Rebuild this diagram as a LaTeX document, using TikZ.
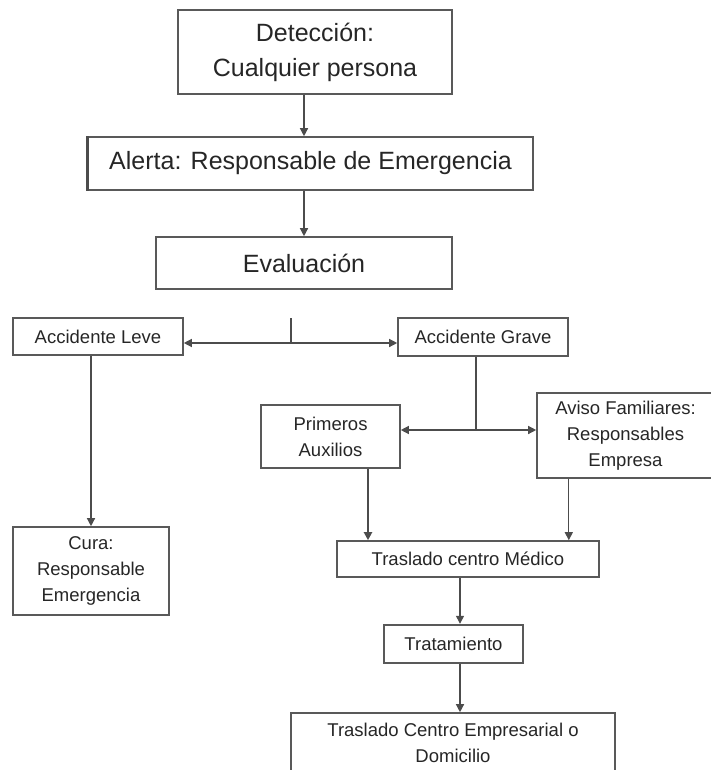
\documentclass[tikz,border=0pt]{standalone}
\usepackage{fontspec}
\setmainfont{Liberation Sans}
\usetikzlibrary{arrows.meta}

\begin{document}
\begin{tikzpicture}[x=1pt,y=-1pt,
  box/.style={draw=black!65,line width=1.6pt,text=black!85,align=center,inner sep=0pt,
    font=\fontsize{18.5}{26}\selectfont},
  bigbox/.style={box,font=\fontsize{25}{35}\selectfont},
  line/.style={draw=black!70,line width=1.3pt},
  arr/.style={line,-{Triangle[length=8pt,width=8pt]}},
  twoarr/.style={line,{Triangle[length=8pt,width=8pt]}-{Triangle[length=8pt,width=8pt]}}]
\useasboundingbox (0,0) rectangle (711,770);
\clip (0,0) rectangle (711,770);

% top chain
\node[bigbox,minimum width=274pt,minimum height=84pt] (detec) at (315,52) {Detección:\\Cualquier persona};
\node[bigbox,minimum width=445pt,minimum height=53pt] (alerta) at (310.5,163.5) {Alerta: Responsable de Emergencia};
\node[bigbox,minimum width=296pt,minimum height=52pt] (eval) at (304,263) {Evaluación};

\draw[arr] (eval.north |- detec.south) -- (eval.north |- alerta.north);
\draw[arr] (alerta.south -| eval.north) -- (eval.north);
\draw[line width=2.6pt,black!70] (alerta.north west) -- (alerta.south west);

% the two branches
\node[box,minimum width=170pt,minimum height=37pt] (leve) at (98,336.5) {Accidente Leve};
\node[box,minimum width=170pt,minimum height=38pt] (grave) at (483,337) {Accidente Grave};
\coordinate (split) at (291,318);
\coordinate (fork) at (291,343);
\draw[line] (split) -- (fork);
\draw[twoarr] (leve.east |- fork) -- (grave.west |- fork);

\node[box,minimum width=156pt,minimum height=88pt] (cura) at (91,571) {Cura:\\Responsable\\Emergencia};
\draw[arr] (leve.south -| cura.north) -- (cura.north);

\node[box,minimum width=139pt,minimum height=63pt] (primeros) at (330.5,436.5) {Primeros\\Auxilios};
\node[box,minimum width=177pt,minimum height=85pt] (aviso) at (625.5,435.5) {Aviso Familiares:\\Responsables\\Empresa};
\coordinate (fork2) at (476,430);
\draw[line] (grave.south -| fork2) -- (fork2);
\draw[twoarr] (primeros.east |- fork2) -- (aviso.west |- fork2);

% lower chain
\node[box,minimum width=262pt,minimum height=36pt] (traslado) at (468,559) {Traslado centro Médico};
\draw[arr,line width=2.6pt] ([xshift=37.5pt]primeros.south) -- ([xshift=37.5pt]primeros.south |- traslado.north);
\draw[arr] (aviso.south -| grave.east) -- (traslado.north -| grave.east);

\node[box,line width=2.4pt,minimum width=139pt,minimum height=38pt] (tratam) at (453.5,644) {Tratamiento};
\draw[arr] ([xshift=-8pt]traslado.south) -- ([xshift=-8pt]traslado.south |- tratam.north);

\node[box,minimum width=324pt,minimum height=60pt] (fin) at (453,743) {Traslado Centro Empresarial o\\Domicilio};
\draw[arr] ([xshift=6.5pt]tratam.south) -- ([xshift=6.5pt]tratam.south |- fin.north);
\end{tikzpicture}
\end{document}
